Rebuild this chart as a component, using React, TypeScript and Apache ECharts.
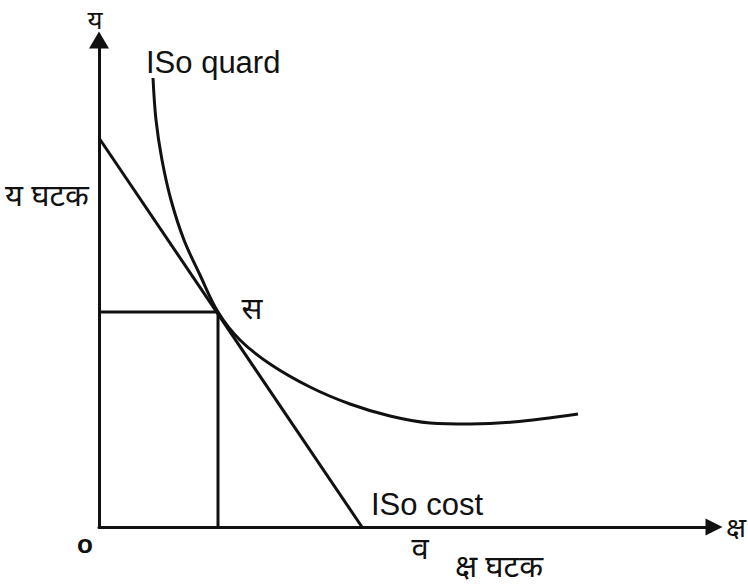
import React, { useEffect, useRef } from "react";
import * as echarts from "echarts";

const isoCostLine: [number, number][] = [[0, 389], [263, 0]];
const isoQuant: [number, number][] = [
  [54, 449], [57, 407], [63, 367], [72, 327], [85, 287], [101, 252], [119, 215],
  [141, 187], [171, 163], [211, 140], [251, 123], [291, 111], [331, 104],
  [371, 103], [414, 105], [479, 113],
];
const tangentPoint: [number, number] = [119, 215];
const xMax = 615;
const yMax = 487;

const labels = {
  yAxis: "य",
  yFactor: "य घटक",
  xAxis: "क्ष",
  xFactor: "क्ष घटक",
  point: "स",
  xPoint: "व",
  origin: "o",
  quant: "ISo quard",
  cost: "ISo cost",
};

export default function App() {
  const ref = useRef<HTMLDivElement>(null);
  useEffect(() => {
    if (!ref.current) return;
    const chart = echarts.init(ref.current, undefined, { renderer: "svg" });
    const lineStyle = { color: "#111", width: 3 };
    const dev = "'Noto Sans', 'DejaVu Sans', sans-serif";
    const lat = "'Liberation Sans', Arial, sans-serif";
    const axisCommon = {
      axisTick: { show: false }, axisLabel: { show: false }, splitLine: { show: false },
    };
    chart.setOption({
      animation: false,
      backgroundColor: "#fff",
      grid: { left: 99, right: 34, top: 40, bottom: 58 },
      xAxis: {
        type: "value", min: 0, max: xMax,
        axisLine: { show: true, symbol: ["none", "triangle"], symbolSize: [17, 17], lineStyle },
        ...axisCommon,
      },
      yAxis: {
        type: "value", min: 0, max: yMax,
        axisLine: { show: true, symbol: ["none", "triangle"], symbolSize: [20, 17], lineStyle },
        ...axisCommon,
      },
      series: [
        { type: "line", data: isoCostLine, symbol: "none", lineStyle, silent: true },
        { type: "line", data: isoQuant, symbol: "none", smooth: 0.35, lineStyle, silent: true },
        {
          type: "line", symbol: "none", lineStyle, silent: true,
          data: [[0, tangentPoint[1]], tangentPoint, [tangentPoint[0], 0]],
        },
      ],
      graphic: [
        { type: "text", x: 95, y: 6, style: { text: labels.yAxis, font: `26px ${dev}`, fill: "#111", align: "center", verticalAlign: "top" } },
        { type: "text", x: 47, y: 194, style: { text: labels.yFactor, font: `31px ${dev}`, fill: "#111", align: "center", verticalAlign: "middle" } },
        { type: "text", x: 726, y: 526, style: { text: labels.xAxis, font: `28px ${dev}`, fill: "#111", align: "left", verticalAlign: "middle" } },
        { type: "text", x: 499, y: 565, style: { text: labels.xFactor, font: `31px ${dev}`, fill: "#111", align: "center", verticalAlign: "middle" } },
        { type: "text", x: 420, y: 547, style: { text: labels.xPoint, font: `31px ${dev}`, fill: "#111", align: "center", verticalAlign: "middle" } },
        { type: "text", x: 252, y: 307, style: { text: labels.point, font: `31px ${dev}`, fill: "#111", align: "center", verticalAlign: "middle" } },
        { type: "text", x: 85, y: 544, style: { text: labels.origin, font: `bold 26px ${lat}`, fill: "#111", align: "center", verticalAlign: "middle" } },
        { type: "text", x: 146, y: 62, style: { text: labels.quant, font: `31px ${lat}`, fill: "#111", align: "left", verticalAlign: "middle" } },
        { type: "text", x: 371, y: 504, style: { text: labels.cost, font: `31px ${lat}`, fill: "#111", align: "left", verticalAlign: "middle" } },
      ],
    });
    return () => chart.dispose();
  }, []);
  return <div ref={ref} style={{ position: "fixed", left: 0, top: 0, width: 748, height: 585 }} />;
}
